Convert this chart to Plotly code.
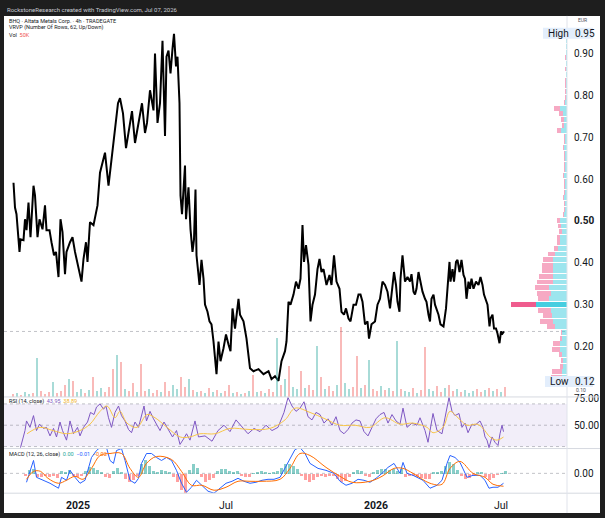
import plotly.graph_objects as go

W, H = 605, 518
def fx(px): return px / W
def fy(py): return 1 - py / H

# ---------------- data ----------------
bars = [1,4,7,13,15,21,24,27,31,35,41,44,49,53,59,64,67,73,77,82,86,91,95,99,104,107,114,119,124,131,137,141,146,149,154,161,166,169,174,177,184,191,194,197,204,210,214,220,226,232,238,244,252,258,264,268,274,281,284,289,294,299,304,307,311,315,319,322,326,329,333,335,338,344,346,351,355,359,362,365,367,373,377,381,384,389,393,397,401,407,411,415,421,426,431,435,439,444,451,454,461,467,474,481,491,501,511,517,524,531,537,544,547,551,555,561,566,571,575,579,582,586,591,595,599,604,609,613,617,621,627,633,637,642,647,653,657,662,666,671,675,681,686,691,695,699,704,709,712,717,724,729,734,739,744,749,754,757,762,766,769,773,775,779,784,789,794,797,801,804,807,811,815,819,824,827,831,834,837,841,844,847,851,855,861,866,869,873,875,879,882,886,889,893,897,901,904,907,911,914,917,921,926,931,935,939,942,946,949,953,955,959,962,966,969,973,976,979,982]
close = [0.591,0.532,0.516,0.426,0.456,0.454,0.504,0.478,0.544,0.461,0.584,0.561,0.461,0.504,0.480,0.537,0.478,0.478,0.449,0.418,0.426,0.366,0.504,0.473,0.373,0.426,0.449,0.461,0.426,0.390,0.355,0.409,0.449,0.402,0.497,0.490,0.525,0.537,0.615,0.632,0.663,0.584,0.615,0.646,0.722,0.781,0.793,0.757,0.674,0.722,0.762,0.686,0.745,0.781,0.710,0.734,0.812,0.764,0.900,0.734,0.781,0.930,0.703,0.892,0.907,0.852,0.911,0.947,0.869,0.892,0.781,0.561,0.516,0.632,0.504,0.580,0.480,0.426,0.456,0.575,0.418,0.347,0.407,0.362,0.300,0.283,0.260,0.253,0.212,0.134,0.212,0.165,0.196,0.229,0.205,0.189,0.291,0.243,0.314,0.276,0.260,0.219,0.148,0.141,0.146,0.134,0.141,0.122,0.129,0.118,0.165,0.189,0.212,0.307,0.300,0.324,0.355,0.338,0.362,0.490,0.402,0.442,0.395,0.260,0.300,0.324,0.385,0.409,0.378,0.385,0.347,0.371,0.347,0.418,0.355,0.338,0.283,0.276,0.291,0.267,0.260,0.300,0.300,0.324,0.324,0.307,0.253,0.260,0.219,0.253,0.260,0.300,0.314,0.355,0.347,0.331,0.291,0.324,0.378,0.347,0.307,0.283,0.362,0.418,0.355,0.366,0.355,0.373,0.331,0.324,0.338,0.378,0.355,0.331,0.314,0.307,0.276,0.260,0.314,0.324,0.300,0.291,0.276,0.253,0.248,0.291,0.338,0.402,0.355,0.385,0.355,0.402,0.407,0.378,0.407,0.371,0.362,0.314,0.355,0.338,0.362,0.338,0.355,0.347,0.366,0.347,0.324,0.307,0.300,0.248,0.267,0.276,0.243,0.243,0.231,0.208,0.236,0.231,0.236]
last_price = 0.236

# volume (thousands), one reading every 8 bars starting at bar 0
vol_step = 8
volume = [15,20,10,25,15,20,195,30,15,25,75,20,30,60,90,80,25,40,20,35,100,30,45,25,50,140,210,175,40,30,70,25,165,30,40,20,35,25,75,30,60,40,100,50,90,35,25,30,20,45,25,35,20,30,60,20,25,15,20,30,110,25,30,20,40,25,300,60,90,155,50,40,130,45,60,35,255,100,40,55,30,60,355,70,40,50,205,45,60,185,40,30,55,35,45,30,280,40,30,25,45,20,35,250,40,30,55,25,45,60,30,40,25,35,20,30,40,25,35,45,30,40,25,50]
vol_dir = "dudu udud ddud ddud uudu duud ddud uddu ddud dudd uudd ududu dudu ddu dudu dudu ddu dud uudu ddudu ddud uudd udud dudu dudu udud duud dudd uduu uddu dudu".replace(" ", "")

# RSI (14) and its moving average
rsi_bar = [15,24,27,34,41,47,53,61,67,74,81,87,94,99,107,114,121,129,134,141,149,155,162,167,174,181,186,191,197,204,211,217,224,231,237,244,251,257,262,267,274,281,287,294,302,311,319,327,334,341,347,354,364,371,384,398,410,422,434,446,458,470,482,494,506,518,530,542,550,558,566,574,582,590,598,606,614,622,630,638,646,654,662,670,678,686,694,702,710,718,726,734,742,750,758,766,774,780,788,798,808,814,824,830,840,848,858,864,872,878,884,892,898,904,910,918,924,934,940,944,948,952,958,964,970,974,978,981]
rsi = [29,45,54,48,59,45,51,47,48,40,47,39,53,45,36,54,42,48,40,48,53,62,60,67,70,65,68,57,48,62,68,59,54,46,43,53,48,60,68,54,63,56,51,45,53,46,39,45,32,37,42,36,54,39,40,35,45,50,44,55,48,42,47,44,50,45,48,62,76,68,63,66,72,58,55,62,60,52,56,50,58,45,42,46,52,55,54,44,40,48,56,60,62,52,60,54,51,66,48,52,50,57,45,34,61,45,42,57,76,63,59,61,48,52,43,51,50,54,48,39,36,29,39,34,31,42,50,43.95]
rsi_ma_bar = [28,54,80,108,134,154,174,188,204,214,228,248,268,284,308,334,354,374,404,434,474,514,544,564,594,624,654,684,714,744,774,800,828,840,860,874,890,908,928,940,954,968,981]
rsi_ma = [42,48,45,42,45,51,63,68,57,63,52,48,60,57,48,39,39,42,42,47,46,47,55,66,62,56,50,50,48,57,51,52,48,43,48,63,57,50,51,47,39,36,38.89]

# MACD (12, 26, close)
macd_bar = [27,34,41,47,61,74,91,97,107,114,124,134,144,151,157,167,174,187,194,201,207,217,224,234,244,251,257,267,277,287,297,307,317,327,337,347,357,367,378,390,402,414,426,438,450,462,474,486,498,510,522,534,544,554,564,574,584,594,610,626,642,654,666,678,690,702,714,726,738,750,762,774,780,788,800,820,834,848,858,868,874,884,894,908,920,934,944,952,960,970,981]
macd = [-9,3,13,-4,-7,-10,-15,-4,-7,3,-4,-10,-7,5,16,23,26,26,13,10,23,25,13,-7,-10,-5,10,20,20,16,13,16,13,3,-10,-19,-14,-7,-12,-18,-20,-15,-10,-8,-5,-8,-10,-9,-7,-6,-6,-4,5,15,24,26,20,10,5,3,0,-8,-12,-10,-6,-7,-9,-5,0,6,10,0,11,0,-2,-7,-15,-12,-7,10,18,16,11,-4,-2,-2,-7,-15,-14,-14,-10]
signal_bar = [27,41,55,70,91,107,124,140,157,174,194,217,234,251,267,287,317,337,357,378,402,426,450,474,498,534,554,574,594,626,654,678,714,738,762,780,800,834,858,874,894,920,944,960,981]
signal = [-6,2,2,-5,-10,-7,-3,-6,5,18,20,20,5,-4,10,17,14,2,-12,-12,-17,-14,-8,-8,-8,-6,5,20,18,6,-3,-9,-8,-3,5,5,0,-10,-11,5,12,0,-4,-11,-13]
hist_start, hist_step = 24, 8
hist = [-2,4,5,-3,-3,-2,-3,-2,-4,3,2,4,-2,-3,-2,3,7,6,4,2,-3,-4,3,6,2,-5,-8,-6,-2,10,14,8,3,2,4,3,2,-3,-8,-16,-20,4,10,6,-3,-8,-6,-4,3,5,5,3,2,3,-2,-3,-3,1,2,3,2,1,2,3,6,10,10,8,5,-2,-6,-8,-6,-3,-2,-3,-2,-2,-5,-8,-7,-3,2,4,3,-2,-3,2,4,5,5,4,5,3,5,-3,-2,-2,-3,-4,-5,-5,2,2,3,8,12,10,4,-2,-5,-4,-2,2,2,-3,-6,-4,-1,1,3]

# Visible range volume profile (62 rows between low and high)
vp_low, vp_high, vp_rows = 0.12, 0.95, 62
vp_up = [5,5,4,4,5,7,7,5,5,12,14,15,16,31,18,16,18,14,14,14,14,14,12,9,7,7,5,6,7,3,2,2,3,2,2,2,3,2,2,2,2,3,2,2,6,3,3,4,7,2,1,1,1,1,1,1,1,1,1,1,1,1]
vp_down = [11,10,3,2,3,8,7,2,1,8,13,9,13,25,11,14,14,16,14,11,11,10,7,4,3,3,3,3,3,1,1,1,1,1,1,1,1,1,1,1,1,1,1,1,4,2,3,4,6,1,1,1,1,1,0,1,0,1,0,0,0,0]

price_ticks = [0.20,0.30,0.40,0.50,0.60,0.70,0.80,0.90]
price_tick_text = ["0.20","0.30","0.40","<b>0.50</b>","0.60","0.70","0.80","0.90"]
time_tick_bars = [130, 426, 726, 976]
time_tick_text = ["<b>2025</b>", "Jul", "<b>2026</b>", "Jul"]

# ---------------- layout geometry ----------------
X0, X1 = 4, 567          # pane left/right in px
MAIN = (12, 396)
RSI = (396, 448)
MACD = (448, 493)
xdom = [fx(X0), fx(X1)]
xrange = [-18, 1108]
FONT = "Roboto"
TXT = "#131722"

fig = go.Figure()

# volume bars
vol_x = [i * vol_step for i in range(len(volume))]
vol_col = ["rgba(38,166,154,0.40)" if vol_dir[i % len(vol_dir)] == "u" else "rgba(239,83,80,0.40)" for i in range(len(volume))]
fig.add_trace(go.Bar(x=vol_x, y=volume, marker=dict(color=vol_col, line_width=0), width=2.2,
                     xaxis="x", yaxis="y2", showlegend=False, hoverinfo="skip"))

# volume profile
step = (vp_high - vp_low) / vp_rows
vp_y = [vp_low + (k + 0.5) * step for k in range(vp_rows)]
poc = max(range(vp_rows), key=lambda k: vp_up[k] + vp_down[k])
up_col = ["rgba(38,198,218,0.85)" if k == poc else "rgba(38,198,218,0.45)" for k in range(vp_rows)]
dn_col = ["rgba(236,64,122,0.85)" if k == poc else "rgba(236,64,122,0.45)" for k in range(vp_rows)]
fig.add_trace(go.Bar(y=vp_y, x=vp_up, base=0, orientation="h", width=step * 0.88,
                     marker=dict(color=up_col, line_width=0), xaxis="x5", yaxis="y",
                     showlegend=False, hoverinfo="skip"))
fig.add_trace(go.Bar(y=vp_y, x=vp_down, base=vp_up, orientation="h", width=step * 0.88,
                     marker=dict(color=dn_col, line_width=0), xaxis="x5", yaxis="y",
                     showlegend=False, hoverinfo="skip"))

# price line
fig.add_trace(go.Scatter(x=bars, y=close, mode="lines", line=dict(color="#000000", width=2),
                         xaxis="x", yaxis="y", showlegend=False, hoverinfo="skip"))

# RSI
fig.add_trace(go.Scatter(x=rsi_bar, y=rsi, mode="lines", line=dict(color="#7e57c2", width=1),
                         xaxis="x2", yaxis="y3", showlegend=False, hoverinfo="skip"))
fig.add_trace(go.Scatter(x=rsi_ma_bar, y=rsi_ma, mode="lines", line=dict(color="#f7c548", width=1, shape="spline"),
                         xaxis="x2", yaxis="y3", showlegend=False, hoverinfo="skip"))

# MACD
hist_x = [hist_start + i * hist_step for i in range(len(hist))]
hist_col = ["rgba(38,166,154,0.55)" if v >= 0 else "rgba(255,82,82,0.55)" for v in hist]
fig.add_trace(go.Bar(x=hist_x, y=[v / 1000 for v in hist], width=6, marker=dict(color=hist_col, line_width=0),
                     xaxis="x3", yaxis="y4", showlegend=False, hoverinfo="skip"))
fig.add_trace(go.Scatter(x=macd_bar, y=[v / 1000 for v in macd], mode="lines", line=dict(color="#2962ff", width=1),
                         xaxis="x3", yaxis="y4", showlegend=False, hoverinfo="skip"))
fig.add_trace(go.Scatter(x=signal_bar, y=[v / 1000 for v in signal], mode="lines", line=dict(color="#ff6d00", width=1, shape="spline"),
                         xaxis="x3", yaxis="y4", showlegend=False, hoverinfo="skip"))

def ydom(p):
    return [fy(p[1]), fy(p[0])]

tickfont = dict(family=FONT, size=10, color=TXT)
common_x = dict(domain=xdom, range=xrange, showgrid=False, zeroline=False, showticklabels=False, ticks="", showline=False, fixedrange=True)
fig.update_layout(
    width=W, height=H, margin=dict(l=0, r=0, t=0, b=0),
    paper_bgcolor="#1e1e1e", plot_bgcolor="rgba(0,0,0,0)",
    barmode="overlay", bargap=0,
    xaxis=dict(**common_x, anchor="y"),
    xaxis2=dict(**common_x, anchor="y3", matches="x"),
    xaxis3=dict(domain=xdom, range=xrange, showgrid=False, zeroline=False, showline=False, anchor="y4",
                tickmode="array", tickvals=time_tick_bars, ticktext=time_tick_text, ticks="",
                tickfont=dict(family=FONT, size=10.5, color=TXT), ticklabelstandoff=4),
    xaxis5=dict(domain=xdom, range=[X1 - X0, 0], overlaying="x", anchor="y", showgrid=False, zeroline=False,
                showticklabels=False, ticks="", showline=False, visible=False),
    yaxis=dict(domain=ydom(MAIN), range=[0.30 - (MAIN[1] - 303) / 422, 0.30 + (303 - MAIN[0]) / 422], side="right",
               anchor="x", showgrid=False, zeroline=False, tickmode="array", tickvals=price_ticks,
               ticktext=price_tick_text, ticks="", tickfont=tickfont, ticklabelstandoff=6, showline=False),
    yaxis2=dict(domain=ydom(MAIN), range=[0, 5 * (MAIN[1] - MAIN[0])], overlaying="y", anchor="x",
                visible=False, showgrid=False, zeroline=False),
    yaxis3=dict(domain=ydom(RSI), range=[50 - (RSI[1] - 424.5) / 1.075, 50 + (424.5 - RSI[0]) / 1.075], side="right",
                anchor="x2", showgrid=False, zeroline=False, tickmode="array", tickvals=[50, 75],
                ticktext=["50.00", "75.00"], ticks="", tickfont=tickfont, ticklabelstandoff=6),
    yaxis4=dict(domain=ydom(MACD), range=[-(MACD[1] - 473) / 1000, (473 - MACD[0]) / 1000], side="right",
                anchor="x3", showgrid=False, zeroline=False, tickmode="array", tickvals=[0],
                ticktext=["0.00"], ticks="", tickfont=tickfont, ticklabelstandoff=6),
)

shapes = []
# white chart canvas
shapes.append(dict(type="rect", xref="paper", yref="paper", x0=fx(4), x1=fx(600), y0=fy(513), y1=fy(12),
                   fillcolor="#ffffff", line_width=0, layer="below"))
# RSI band
shapes.append(dict(type="rect", xref="paper", yref="y3", x0=fx(X0), x1=fx(X1), y0=30, y1=70,
                   fillcolor="rgba(126,87,194,0.10)", line_width=0, layer="below"))
for lv in (70, 50, 30):
    shapes.append(dict(type="line", xref="paper", yref="y3", x0=fx(X0), x1=fx(X1), y0=lv, y1=lv,
                       line=dict(color="rgba(120,123,134,0.45)", width=1, dash="dot"), layer="below"))
shapes.append(dict(type="line", xref="paper", yref="y4", x0=fx(X0), x1=fx(X1), y0=0, y1=0,
                   line=dict(color="rgba(120,123,134,0.45)", width=1, dash="dot"), layer="below"))
# last price line
shapes.append(dict(type="line", xref="paper", yref="y", x0=fx(X0), x1=fx(X1), y0=last_price, y1=last_price,
                   line=dict(color="rgba(120,123,134,0.45)", width=1, dash="dot"), layer="below"))
# separators
for yy in (MAIN[1], RSI[1], MACD[1]):
    shapes.append(dict(type="line", xref="paper", yref="paper", x0=fx(4), x1=fx(600), y0=fy(yy), y1=fy(yy),
                       line=dict(color="#d6d9e0", width=1)))
shapes.append(dict(type="line", xref="paper", yref="paper", x0=fx(X1), x1=fx(X1), y0=fy(513), y1=fy(12),
                   line=dict(color="#e0e3eb", width=1)))
# High / Low badges
shapes.append(dict(type="rect", xref="paper", yref="paper", x0=fx(543), x1=fx(593), y0=fy(35), y1=fy(24),
                   fillcolor="#e3eefc", line_width=0))
shapes.append(dict(type="rect", xref="paper", yref="paper", x0=fx(545), x1=fx(593), y0=fy(386), y1=fy(375),
                   fillcolor="#e3eefc", line_width=0))
fig.update_layout(shapes=shapes)

ann = []
def A(x, y, text, size=6, color="#131722", xanchor="left", family=FONT):
    ann.append(dict(xref="paper", yref="paper", x=fx(x), y=fy(y), text=text, showarrow=False,
                    xanchor=xanchor, yanchor="middle", font=dict(family=family, size=size, color=color)))

A(5, 6, "RockstoneResearch created with TradingView.com, Jul 07, 2026", size=6, color="#c9ccd4")
A(7, 17, "BHQ · Altata Metals Corp. · 4h · TRADEGATE", size=5.5)
A(7, 24, "VRVP (Number Of Rows, 62, Up/Down)", size=5.5)
A(7, 31, "Vol  <span style='color:#ef5350'>50K</span>", size=5.5)
A(7, 401, "RSI (14, close)  <span style='color:#7e57c2'>43.95</span>  <span style='color:#f0b429'>38.89</span>", size=5.5)
A(7, 454, "MACD (12, 26, close)  <span style='color:#26a69a'>0.00</span>  <span style='color:#2962ff'>−0.01</span>  <span style='color:#ff6d00'>−0.02</span>", size=5.5)
A(576, 16, "EUR", size=5, color="#50535e")
A(546, 29.5, "High", size=10)
A(573, 29.5, "0.95", size=10)
A(548, 380.5, "Low", size=10)
A(573, 380.5, "0.12", size=10)
# the 0.10 scale label peeks out just below the Low badge
A(574, 389.3, "0.10", size=5, color="#50535e")
fig.update_layout(annotations=ann)

fig.write_html("out.html")
